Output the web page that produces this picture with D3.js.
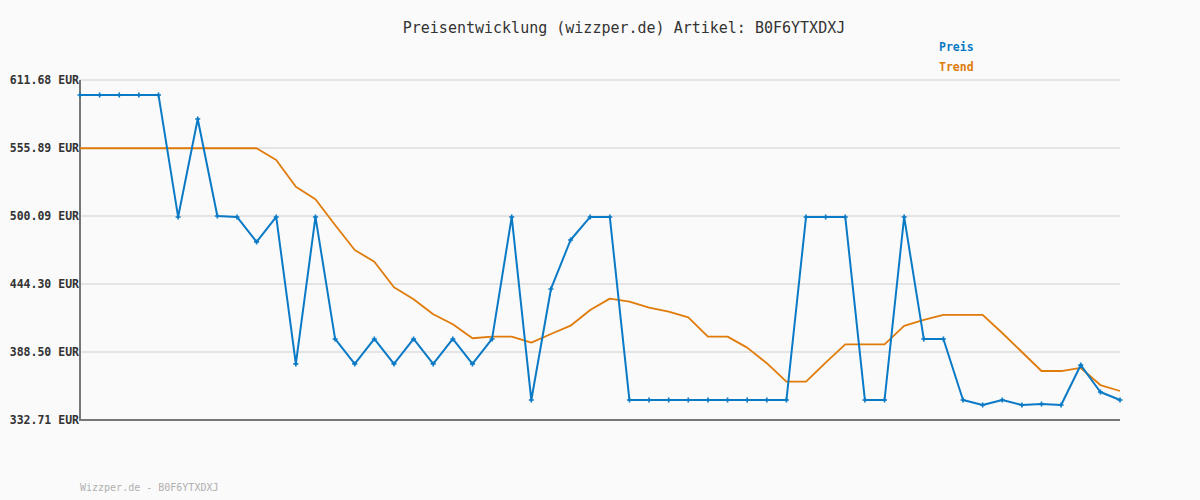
<!DOCTYPE html>
<html>
<head>
<meta charset="utf-8">
<script src="https://cdn.jsdelivr.net/npm/d3@7"></script>
<style>
  html, body { margin: 0; padding: 0; background: #fafafa; }
  svg { display: block; }
</style>
</head>
<body>
<svg id="chart" width="1200" height="500"></svg>
<script>
const title = "Preisentwicklung (wizzper.de) Artikel: B0F6YTXDXJ";
const footer = "Wizzper.de - B0F6YTXDXJ";
const seriesNames = ["Preis", "Trend"];
const yTicks = [332.71, 388.50, 444.30, 500.09, 555.89, 611.68];
const yMin = 332.71, yMax = 611.68;

const preis = [
  599.4, 599.4, 599.4, 599.4, 599.4, 499.3, 579.7, 500.1, 499.3, 478.8,
  499.3, 378.7, 499.3, 399.2, 378.7, 399.2, 378.7, 399.2, 378.7, 399.2,
  378.7, 399.2, 499.3, 349.1, 440.2, 480.4, 499.3, 499.3, 349.1, 349.1,
  349.1, 349.1, 349.1, 349.1, 349.1, 349.1, 349.1, 499.3, 499.3, 499.3,
  349.1, 349.1, 499.3, 399.2, 399.2, 349.1, 345.0, 349.1, 345.0, 345.8,
  345.0, 377.8, 355.7, 349.1
];
const trend = [
  555.7, 555.7, 555.7, 555.7, 555.7, 555.7, 555.7, 555.7, 555.7, 555.7,
  546.0, 524.1, 513.8, 492.7, 472.2, 462.6, 441.6, 431.8, 419.5, 411.3,
  399.8, 401.1, 401.1, 396.2, 403.3, 410.1, 423.0, 432.3, 429.8, 424.9,
  421.6, 417.0, 401.1, 401.1, 392.1, 379.3, 364.2, 364.2, 379.8, 394.7,
  394.7, 394.7, 409.9, 414.8, 418.9, 418.9, 418.9, 404.1, 388.5, 372.9,
  372.9, 375.4, 361.4, 356.5
];
const colors = ["#0a7ac6", "#e07b0a"];

const svg = d3.select("#chart");
const mLeft = 80, mRight = 1120, mTop = 80, mBottom = 420;
const mono = "'DejaVu Sans Mono', 'Liberation Mono', monospace";

const x = d3.scaleLinear().domain([0, preis.length - 1]).range([mLeft, mRight]);
const y = d3.scaleLinear().domain([yMin, yMax]).range([mBottom, mTop]);

svg.append("rect").attr("width", 1200).attr("height", 500).attr("fill", "#fafafa");

// grid
svg.append("g").selectAll("line").data(yTicks).join("line")
  .attr("x1", mLeft).attr("x2", mRight)
  .attr("y1", d => y(d)).attr("y2", d => y(d))
  .attr("stroke", "#e4e4e4").attr("stroke-width", 2);

// y axis labels
const yAxis = d3.axisLeft(y).tickValues(yTicks).tickSize(0).tickPadding(1)
  .tickFormat(d => d3.format(".2f")(d) + " EUR");
const gy = svg.append("g").attr("transform", `translate(${mLeft},0)`).call(yAxis);
gy.select(".domain").remove();
gy.selectAll("text").attr("font-family", mono).attr("font-size", 11.5)
  .attr("font-weight", "bold").attr("fill", "#333");

// axis lines
svg.append("line").attr("x1", mLeft).attr("x2", mLeft).attr("y1", mTop).attr("y2", mBottom + 1)
  .attr("stroke", "#777").attr("stroke-width", 2);
svg.append("line").attr("x1", mLeft).attr("x2", mRight).attr("y1", mBottom).attr("y2", mBottom)
  .attr("stroke", "#777").attr("stroke-width", 2);

const line = d3.line().x((d, i) => x(i)).y(d => y(d));

svg.append("path").datum(trend).attr("d", line).attr("fill", "none")
  .attr("stroke", colors[1]).attr("stroke-width", 1.8).attr("stroke-linejoin", "round");
svg.append("path").datum(preis).attr("d", line).attr("fill", "none")
  .attr("stroke", colors[0]).attr("stroke-width", 2).attr("stroke-linejoin", "round");

// markers (plus)
const plus = d3.symbol().type(d3.symbolCross).size(14);
svg.append("g").selectAll("path").data(preis).join("path")
  .attr("d", plus)
  .attr("transform", (d, i) => `translate(${x(i)},${y(d)})`)
  .attr("fill", colors[0]);

// title
svg.append("text").attr("x", 624).attr("y", 33).attr("text-anchor", "middle")
  .attr("font-family", mono).attr("font-size", 15).attr("fill", "#333").text(title);

// legend
svg.append("g").selectAll("text").data(seriesNames).join("text")
  .attr("x", 939).attr("y", (d, i) => 51 + i * 20)
  .attr("font-family", mono).attr("font-size", 11.5).attr("font-weight", "bold")
  .attr("fill", (d, i) => colors[i]).text(d => d);

// footer
svg.append("text").attr("x", 80).attr("y", 491)
  .attr("font-family", mono).attr("font-size", 10).attr("fill", "#b0b0b0").text(footer);
</script>
</body>
</html>
